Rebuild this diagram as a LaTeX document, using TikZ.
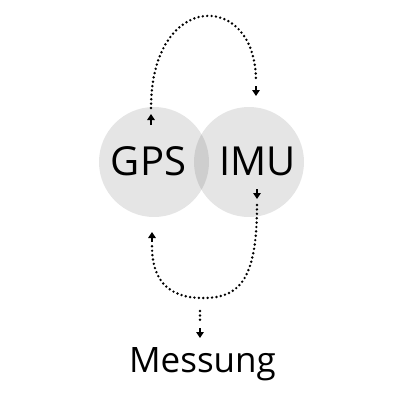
\documentclass[tikz,border=0pt]{standalone}
\usepackage{fontspec}
\setmainfont{Open Sans}
\usetikzlibrary{arrows.meta}
\tikzset{
  disc/.style={circle, fill=black, fill opacity=0.1, minimum size=110pt, inner sep=0pt},
  lbl/.style={font=\fontsize{40}{46}\selectfont, anchor=base, inner sep=0pt},
  dotline/.style={line width=2.7pt, dash pattern=on 0pt off 4.4pt, line cap=round},
  tipline/.style={line width=1.8pt, -{Triangle[length=6pt,width=7.5pt]}},
}
\begin{document}
\begin{tikzpicture}[x=1pt,y=-1pt]
\useasboundingbox (0,0) rectangle (400,400);
\node[disc] (gps) at (154,162) {};
\node[disc] (imu) at (249,162) {};
\node[lbl] (gpst) at (148.5,175.5) {GPS};
\node[lbl] (imut) at (257.5,175.5) {IMU};
\node[lbl, font=\fontsize{35}{40}\selectfont] (mess) at (202.5,372) {Messung};
% top connector
\coordinate (a1) at (151,125);
\coordinate (a2) at (151,114);
\coordinate (a3) at (151,108);
\coordinate (b1) at (256,81);
\coordinate (b2) at (256,86);
\coordinate (b3) at (256,96);
\draw[tipline] (a1) -- (a2);
\draw[dotline] (a3) .. controls (151,-10) and (256,-10) .. (b1);
\draw[tipline] (b2) -- (b3);
% bottom connector
\coordinate (c1) at (257,189);
\coordinate (c2) at (257,199);
\coordinate (c3) at (257,205);
\coordinate (m) at (203,298);
\coordinate (d3) at (152,246);
\coordinate (d2) at (152,242);
\coordinate (d1) at (152,232);
\draw[tipline] (c1) -- (c2);
\draw[dotline] (c3) .. controls (257,282) and (238,298) .. (m)
  .. controls (168,298) and (152,280) .. (d3);
\draw[tipline] (d2) -- (d1);
\coordinate (e1) at (200,311);
\coordinate (e2) at (200,322);
\coordinate (e3) at (200,328);
\coordinate (e4) at (200,338);
\draw[dotline] (e1) -- (e2);
\draw[tipline] (e3) -- (e4);
\end{tikzpicture}
\end{document}
